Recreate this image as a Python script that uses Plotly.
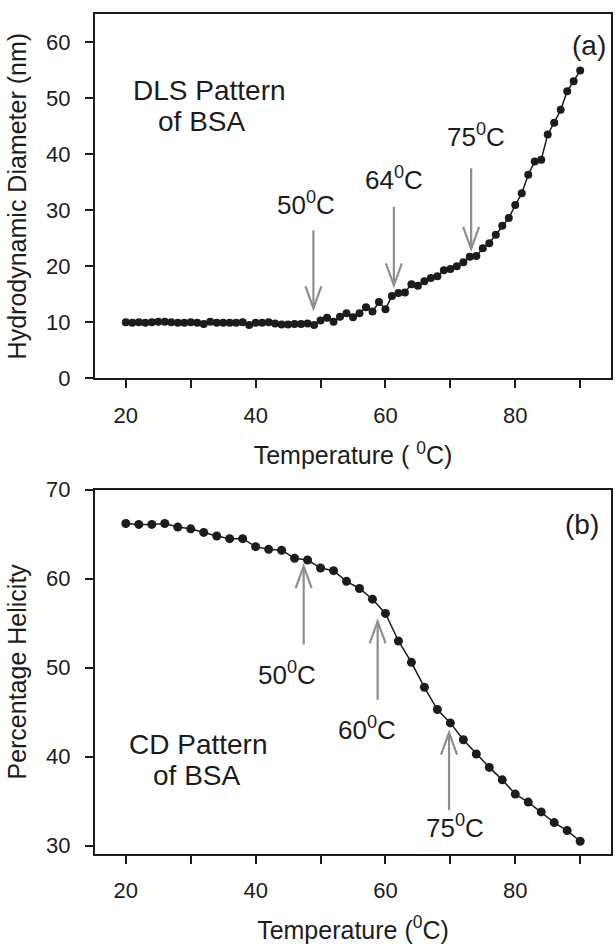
import plotly.graph_objects as go
from plotly.subplots import make_subplots

# ---- DLS data: hydrodynamic diameter vs temperature ----
temp_dls = [20, 21, 22, 23, 24, 25, 26, 27, 28, 29,
            30, 31, 32, 33, 34, 35, 36, 37, 38, 39,
            40, 41, 42, 43, 44, 45, 46, 47, 48, 49,
            50, 51, 52, 53, 54, 55, 56, 57, 58, 59,
            60, 61, 62, 63, 64, 65, 66, 67, 68, 69,
            70, 71, 72, 73, 74, 75, 76, 77, 78, 79,
            80, 81, 82, 83, 84, 85, 86, 87, 88, 89, 90]
diameter_nm = [10.0, 9.9, 10.0, 9.9, 10.0, 10.1, 10.1, 10.0, 9.9, 9.9,
               10.0, 9.9, 9.7, 10.1, 9.9, 9.9, 9.9, 9.9, 10.0, 9.5,
               9.9, 9.9, 10.0, 9.8, 9.6, 9.6, 9.7, 9.7, 9.8, 9.5,
               10.3, 10.8, 10.1, 11.0, 11.6, 10.9, 11.6, 12.7, 11.9, 13.6,
               12.3, 14.7, 15.2, 15.3, 16.8, 16.5, 17.3, 17.9, 18.2, 19.3,
               19.5, 20.0, 20.7, 21.7, 21.8, 23.2, 24.1, 25.6, 27.2, 28.6,
               30.9, 33.0, 36.3, 38.7, 39.0, 43.5, 45.6, 47.9, 51.2, 53.0, 54.9]

# ---- CD data: percentage helicity vs temperature ----
temp_cd = [20, 22, 24, 26, 28, 30, 32, 34, 36, 38, 40, 42,
           44, 46, 48, 50, 52, 54, 56, 58, 60, 62, 64, 66,
           68, 70, 72, 74, 76, 78, 80, 82, 84, 86, 88, 90]
helicity_pct = [66.2, 66.1, 66.1, 66.2, 65.8, 65.6, 65.2, 64.8, 64.5, 64.5, 63.6, 63.3,
                63.2, 62.3, 62.1, 61.2, 60.9, 59.7, 58.9, 57.7, 56.1, 53.0, 50.6, 47.8,
                45.3, 43.8, 41.9, 40.3, 38.8, 37.4, 35.8, 34.9, 33.8, 32.6, 31.7, 30.5]

# ---- transition markers: label text/position and vertical arrow (x, tail, tip) ----
dls_labels = ["50<sup>0</sup>C", "64<sup>0</sup>C", "75<sup>0</sup>C"]
dls_label_x = [47.8, 61.3, 74.0]
dls_label_y = [31.2, 35.7, 43.4]
dls_arrow_x = [48.9, 61.3, 73.2]
dls_arrow_tail = [26.4, 30.6, 37.5]
dls_arrow_tip = [12.5, 16.6, 23.1]

cd_labels = ["50<sup>0</sup>C", "60<sup>0</sup>C", "75<sup>0</sup>C"]
cd_label_x = [44.8, 57.2, 70.7]
cd_label_y = [49.4, 43.2, 32.2]
cd_arrow_x = [47.4, 58.8, 69.8]
cd_arrow_tail = [52.6, 46.4, 34.0]
cd_arrow_tip = [61.4, 55.2, 42.7]

FONT = "Liberation Sans, Arial, sans-serif"
INK = "#1c1c1c"
ARROW = "#8e8e8e"

fig = make_subplots(rows=2, cols=1, vertical_spacing=0.1326)

fig.add_trace(go.Scatter(
    x=temp_dls, y=diameter_nm, mode="lines+markers",
    line=dict(color=INK, width=1.5),
    marker=dict(color=INK, size=8),
    showlegend=False), row=1, col=1)

fig.add_trace(go.Scatter(
    x=temp_cd, y=helicity_pct, mode="lines+markers",
    line=dict(color=INK, width=1.5),
    marker=dict(color=INK, size=9),
    showlegend=False), row=2, col=1)

annotations = []
shapes = []


def text_note(xref, yref, x, y, text, size):
    return dict(xref=xref, yref=yref, x=x, y=y, text=text, showarrow=False,
                xanchor="center", yanchor="middle",
                font=dict(family=FONT, size=size, color=INK))


def add_arrow(xref, yref, x, tail, tip):
    # shaft in data units
    shapes.append(dict(type="line", xref=xref, yref=yref,
                       x0=x, x1=x, y0=tail, y1=tip,
                       line=dict(color=ARROW, width=2.2)))
    # open V head drawn in pixels around the tip (positive = upward)
    s = 1 if tail > tip else -1
    shapes.append(dict(type="path", xref=xref, yref=yref,
                       xsizemode="pixel", ysizemode="pixel",
                       xanchor=x, yanchor=tip,
                       path=f"M -8,{22 * s} L 0,0 L 8,{22 * s}",
                       line=dict(color=ARROW, width=2.2)))


for lab, lx, ly, axx, tail, tip in zip(dls_labels, dls_label_x, dls_label_y,
                                       dls_arrow_x, dls_arrow_tail, dls_arrow_tip):
    annotations.append(text_note("x", "y", lx, ly, lab, 26))
    add_arrow("x", "y", axx, tail, tip)

for lab, lx, ly, axx, tail, tip in zip(cd_labels, cd_label_x, cd_label_y,
                                       cd_arrow_x, cd_arrow_tail, cd_arrow_tip):
    annotations.append(text_note("x2", "y2", lx, ly, lab, 26))
    add_arrow("x2", "y2", axx, tail, tip)

annotations += [
    text_note("x", "y", 32.9, 51.3, "DLS Pattern", 28),
    text_note("x", "y", 31.6, 45.8, "of BSA", 28),
    text_note("x", "y", 91.4, 59.3, "(a)", 28),
    text_note("x2", "y2", 31.2, 41.4, "CD Pattern", 28),
    text_note("x2", "y2", 30.9, 37.9, "of BSA", 28),
    text_note("x2", "y2", 90.3, 66.1, "(b)", 28),
]

axis_common = dict(
    showline=True, mirror=True, linecolor=INK, linewidth=2,
    ticks="outside", ticklen=8, tickwidth=2, tickcolor=INK,
    showgrid=False, zeroline=False,
    tickfont=dict(family=FONT, size=22, color=INK),
)

fig.update_xaxes(**axis_common, range=[15.25, 94.75],
                 tick0=20, dtick=20, ticklabelstandoff=8,
                 minor=dict(ticks="outside", ticklen=8, tickwidth=2,
                            tickcolor=INK, tick0=20, dtick=10, showgrid=False))
fig.update_yaxes(**axis_common, ticklabelstandoff=10)

title_font = dict(family=FONT, size=25, color=INK)
fig.update_xaxes(title=dict(text="Temperature ( <sup>0</sup>C)", standoff=20,
                            font=title_font), row=1, col=1)
fig.update_xaxes(title=dict(text="Temperature (<sup>0</sup>C)", standoff=20,
                            font=title_font), row=2, col=1)
fig.update_yaxes(range=[0, 65], tick0=0, dtick=10,
                 title=dict(text="Hydrodynamic Diameter (nm)", standoff=12,
                            font=title_font), row=1, col=1)
fig.update_yaxes(range=[29.07, 70], tick0=30, dtick=10,
                 title=dict(text="Percentage Helicity", standoff=12,
                            font=title_font), row=2, col=1)

fig.update_layout(
    width=615, height=944,
    margin=dict(l=95, r=2, t=14, b=90),
    paper_bgcolor="white", plot_bgcolor="white",
    annotations=annotations,
    shapes=shapes,
)
fig.layout.yaxis.domain = [0.5663, 1.0]
fig.layout.yaxis2.domain = [0.0, 0.4337]

fig.write_html("out.html")
